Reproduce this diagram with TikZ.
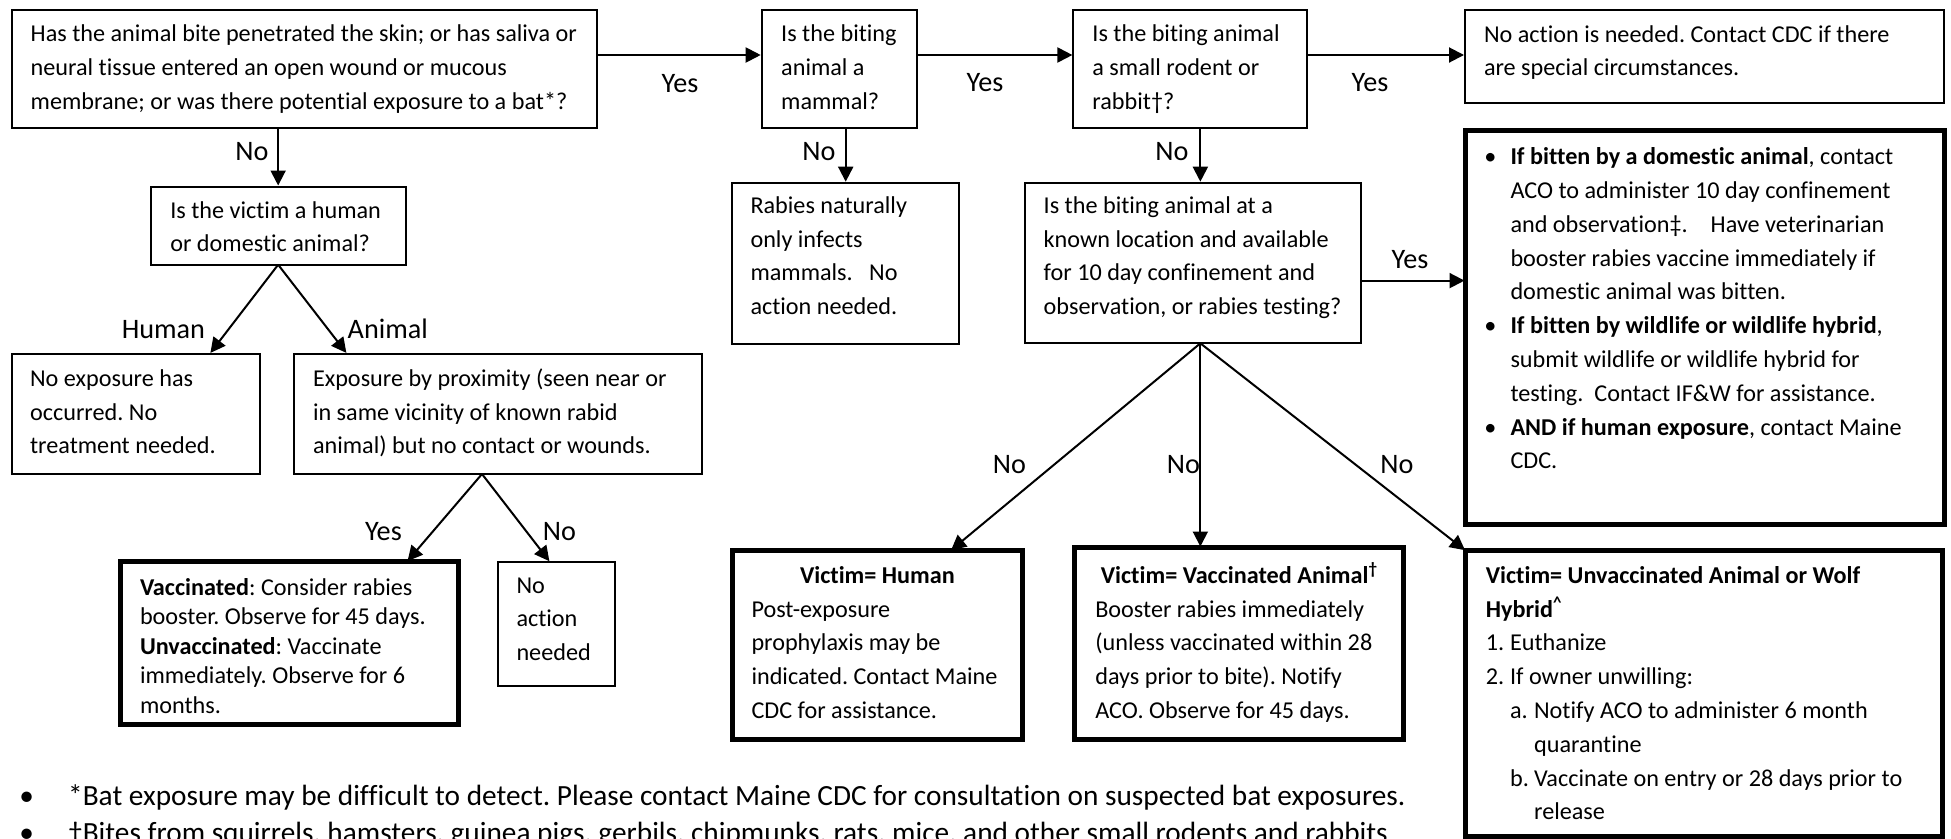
\documentclass[tikz,border=0pt]{standalone}
\usepackage{fontspec}
\setmainfont{Carlito}[Ligatures=NoCommon]
\usetikzlibrary{arrows.meta,calc}
\frenchspacing
\newcommand{\fbody}{\fontsize{24.2pt}{33.8pt}\selectfont\frenchspacing}
\newcommand{\fsingle}{\fontsize{24.2pt}{29.5pt}\selectfont\frenchspacing}
\newcommand{\flab}{\fontsize{28.2pt}{34pt}\selectfont}
\newcommand{\ffoot}{\fontsize{29.3pt}{37pt}\selectfont\frenchspacing}
% width, height, left pad, first baseline, text
\newcommand{\bxt}[5]{\parbox[c][#2pt][t]{#1pt}{\raggedright\leftskip=#3pt\relax\parindent=0pt\rule{0pt}{#4pt}#5}}
\begin{document}
\begin{tikzpicture}[x=1pt,y=-1pt,
  box/.style={draw, line width=2pt, inner sep=0pt, outer sep=0pt, anchor=north west, font=\fbody},
  tbox/.style={box, line width=5pt},
  arr/.style={line width=2pt, -{Triangle[length=15pt,width=15pt]}, shorten >=1pt},
  lab/.style={font=\flab, anchor=base, inner sep=0pt},
  foot/.style={font=\ffoot, inner sep=0pt}]
\clip (0,0) rectangle (1951,838);
\fill[white] (0,0) rectangle (1951,838);
% boxes
\node[box] (B1) at (11.7,10) {\bxt{585}{118}{19}{31.7}{Has the animal bite penetrated the skin; or has saliva or\\neural tissue entered an open wound or mucous\\membrane; or was there potential exposure to a bat*?}};
\node[box] (B2) at (761.7,10) {\bxt{155}{118}{19.5}{31.7}{Is the biting\\animal a\\mammal?}};
\node[box] (B3) at (1073.4,10) {\bxt{233.1}{118}{19}{31.7}{Is the biting animal\\a small rodent or\\rabbit†?}};
\node[box] (B4) at (1465,10.3) {\bxt{479}{93}{19}{31.7}{No action is needed. Contact CDC if there\\are special circumstances.}};
\node[box] (BV) at (150.8,186.5) {\bxt{254.7}{78.2}{19.5}{31.5}{Is the victim a human\\or domestic animal?}};
\node[box] (NE) at (11.6,353.7) {\bxt{248.2}{120.3}{18.5}{32.5}{No exposure has\\occurred. No\\treatment needed.}};
\node[box] (EX) at (294,353.7) {\bxt{407.5}{120.3}{19}{32.5}{Exposure by proximity (seen near or\\in same vicinity of known rabid\\animal) but no contact or wounds.}};
\node[tbox] (VAC) at (120.5,561.8) {\fsingle\bxt{338.4}{162.4}{19.5}{33.2}{\textbf{Vaccinated}: Consider rabies\\booster. Observe for 45 days.\\\textbf{Unvaccinated}: Vaccinate\\immediately. Observe for 6\\months.}};
\node[box] (NA) at (498,562) {\bxt{117}{123.7}{18.5}{31}{No\\action\\needed}};
\node[box] (RAB) at (732,182.7) {\bxt{227.4}{161.3}{18.5}{30.6}{Rabies naturally\\only infects\\mammals.\ \ \ No\\action needed.}};
\node[box] (KN) at (1024.7,182.7) {\bxt{336.3}{160.6}{19}{30.6}{Is the biting animal at a\\known location and available\\for 10 day confinement and\\observation, or rabies testing?}};
\node[tbox] (BUL) at (1465.5,130.5) {\bxt{479}{394}{45}{34.1}{\llap{•\hspace{14pt}}\textbf{If bitten by a domestic animal}, contact\\ACO to administer 10 day confinement\\and observation‡.\hspace*{23pt}Have veterinarian\\booster rabies vaccine immediately if\\domestic animal was bitten.\\\leavevmode\llap{•\hspace{14pt}}\textbf{If bitten by wildlife or wildlife hybrid},\\submit wildlife or wildlife hybrid for\\testing.\ \ Contact IF\&W for assistance.\\\leavevmode\llap{•\hspace{14pt}}\textbf{AND if human exposure}, contact Maine\\CDC.}};
\node[tbox] (HUM) at (732.5,550.8) {\bxt{289.8}{189}{19}{32.5}{\hspace*{-19pt}\makebox[289.8pt][c]{\textbf{Victim= Human}}\\Post-exposure\\prophylaxis may be\\indicated. Contact Maine\\CDC for assistance.}};
\node[tbox] (VA) at (1074.8,547.5) {\bxt{328.7}{192.3}{20.5}{35.8}{\hspace*{-20.5pt}\makebox[328.7pt][c]{\textbf{Victim= Vaccinated Animal\textsuperscript{†}}}\\Booster rabies immediately\\(unless vaccinated within 28\\days prior to bite). Notify\\ACO. Observe for 45 days.}};
\node[tbox] (UNV) at (1465.8,550.8) {\bxt{476.7}{285.2}{20}{32.5}{\textbf{Victim= Unvaccinated Animal or Wolf}\\\textbf{Hybrid\textsuperscript{\textasciicircum}}\\\makebox[24.3pt][l]{1.}Euthanize\\\makebox[24.3pt][l]{2.}If owner unwilling:\\\hspace*{24.3pt}\makebox[24pt][l]{a.}Notify ACO to administer 6 month\\\hspace*{48.3pt}quarantine\\\hspace*{24.3pt}\makebox[24pt][l]{b.}Vaccinate on entry or 28 days prior to\\\hspace*{48.3pt}release}};
% helper coordinates
\coordinate (b1e) at ([yshift=14pt]B1.east);
\coordinate (b2e) at ([yshift=14pt]B2.east);
\coordinate (b3e) at ([yshift=14pt]B3.east);
\coordinate (kt) at ([xshift=7.5pt]KN.north);
\coordinate (kb) at ([xshift=7.5pt]KN.south);
\coordinate (ke) at ([yshift=-17.6pt]KN.east);
\coordinate (exs) at ([xshift=-15.75pt]EX.south);
% connectors
\draw[arr] (b1e) -- (b1e -| B2.west);
\draw[arr] (b2e) -- (b2e -| B3.west);
\draw[arr] (b3e) -- (b3e -| B4.west);
\draw[arr] (BV.north |- B1.south) -- (BV.north);
\draw[arr] (RAB.north |- B2.south) -- (RAB.north);
\draw[arr] (kt |- B3.south) -- (kt);
\draw[arr] (BV.south) -- ($(NE.north east)+(-50,0)$);
\draw[arr] (BV.south) -- ($(EX.north west)+(53,0)$);
\draw[arr] (exs) -- ($(VAC.north east)+(-52,0)$);
\draw[arr] (exs) -- ($(NA.north west)+(52,0)$);
\draw[arr] (ke) -- (ke -| BUL.west);
\draw[arr] (kb) -- ($(HUM.north east)+(-72,0)$);
\draw[arr] (kb) -- (kb |- VA.north);
\draw[arr] (kb) -- (UNV.north west);
% labels
\node[lab] (Y1) at (680,92.7) {Yes};
\node[lab] (Y2) at (985,91.7) {Yes};
\node[lab] (Y3) at (1370,91.7) {Yes};
\node[lab] (N1) at (252,160) {No};
\node[lab] (N2) at (819,160) {No};
\node[lab] (N3) at (1172,160) {No};
\node[lab] (LH) at (163.4,338) {Human};
\node[lab] (LA) at (387.8,338) {Animal};
\node[lab] (Y4) at (383.4,540) {Yes};
\node[lab] (N4) at (559.5,540) {No};
\node[lab] (Y5) at (1410,268) {Yes};
\node[lab] (N5) at (1009.4,473) {No};
\node[lab] (N6) at (1183.4,473) {No};
\node[lab] (N7) at (1397,473) {No};
% footnotes
\node[foot, anchor=base] (F1b) at (26.7,805) {•};
\node[foot, anchor=base west] (F1) at (68,805) {*Bat exposure may be difficult to detect. Please contact Maine CDC for consultation on suspected bat exposures.};
\node[foot, anchor=base] (F2b) at (26.7,842) {•};
\node[foot, anchor=base west] (F2) at (68,842) {†Bites from squirrels, hamsters, guinea pigs, gerbils, chipmunks, rats, mice, and other small rodents and rabbits};
\end{tikzpicture}
\end{document}
